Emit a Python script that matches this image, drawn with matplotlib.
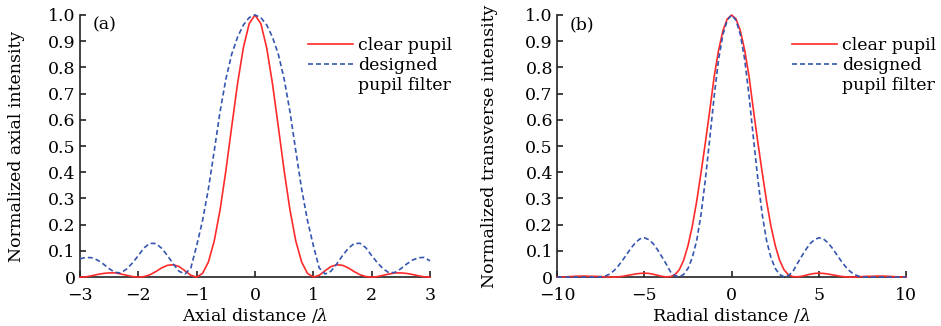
import matplotlib
matplotlib.use("Agg")
import matplotlib.pyplot as plt
import numpy as np
from matplotlib.lines import Line2D

# Fonts
plt.rcParams['font.family'] = ['DejaVu Serif']
plt.rcParams['mathtext.fontset'] = 'dejavuserif'
plt.rcParams['font.size'] = 12.5

# Couleurs
RED = '#ff2a2a'
BLUE = '#3556b0'

# (a) axial intensity, read every 0.1 lambda from -3 to 3
x_axial = np.linspace(-3, 3, 61)
axial_clear = [0.0, 0.001, 0.005, 0.010, 0.014, 0.016, 0.016, 0.012, 0.007, 0.002,
               0.0, 0.002, 0.009, 0.021, 0.035, 0.045, 0.047, 0.040, 0.024, 0.007,
               0.0, 0.014, 0.057, 0.137, 0.255, 0.405, 0.573, 0.737, 0.875, 0.967,
               1.0,
               0.967, 0.875, 0.737, 0.573, 0.405, 0.255, 0.137, 0.057, 0.014, 0.0,
               0.007, 0.024, 0.040, 0.047, 0.045, 0.035, 0.021, 0.009, 0.002, 0.0,
               0.002, 0.007, 0.012, 0.016, 0.016, 0.014, 0.010, 0.005, 0.001, 0.0]
axial_filter = [0.07, 0.075, 0.074, 0.065, 0.05, 0.032, 0.018, 0.016, 0.031, 0.054,
                0.082, 0.112, 0.129, 0.128, 0.11, 0.082, 0.05, 0.022, 0.012, 0.035,
                0.12, 0.215, 0.335, 0.48, 0.63, 0.755, 0.85, 0.915, 0.962, 0.99,
                1.0,
                0.99, 0.962, 0.915, 0.85, 0.755, 0.63, 0.48, 0.335, 0.215, 0.12,
                0.035, 0.012, 0.022, 0.05, 0.082, 0.11, 0.128, 0.129, 0.112, 0.082,
                0.054, 0.031, 0.016, 0.018, 0.032, 0.05, 0.065, 0.074, 0.075, 0.062]

# (b) transverse intensity
x_radial = [-10, -9.5, -9, -8.5, -8, -7.75, -7.5, -7.25, -7, -6.75, -6.5, -6.25,
            -6, -5.75, -5.5, -5.25, -5, -4.75, -4.5, -4.25, -4, -3.75, -3.5, -3.25,
            -3, -2.75, -2.5, -2.25, -2, -1.75, -1.5, -1.25, -1, -0.75, -0.5, -0.25,
            0,
            0.25, 0.5, 0.75, 1, 1.25, 1.5, 1.75, 2, 2.25, 2.5, 2.75, 3,
            3.25, 3.5, 3.75, 4, 4.25, 4.5, 4.75, 5, 5.25, 5.5, 5.75, 6,
            6.25, 6.5, 6.75, 7, 7.25, 7.5, 7.75, 8, 8.5, 9, 9.5, 10]
radial_clear = [0.0, 0.001, 0.003, 0.004, 0.003, 0.003, 0.002, 0.001, 0.0, 0.0,
                0.001, 0.003, 0.006, 0.009, 0.012, 0.014, 0.015, 0.014, 0.011, 0.007,
                0.003, 0.001, 0.002, 0.009, 0.028, 0.064, 0.12, 0.195, 0.29, 0.40,
                0.515, 0.637, 0.765, 0.865, 0.94, 0.985,
                1.0,
                0.985, 0.94, 0.865, 0.765, 0.637, 0.515, 0.40, 0.29, 0.195, 0.12,
                0.064, 0.028, 0.009, 0.002, 0.001, 0.003, 0.007, 0.011, 0.014, 0.015,
                0.014, 0.012, 0.009, 0.006, 0.003, 0.001, 0.0, 0.0, 0.001, 0.002,
                0.003, 0.003, 0.004, 0.003, 0.001, 0.0]
radial_filter = [0.0, 0.0, 0.0, 0.0, 0.0, 0.0, 0.001, 0.004, 0.011, 0.024,
                 0.042, 0.064, 0.088, 0.112, 0.132, 0.146, 0.15, 0.143, 0.128, 0.105,
                 0.078, 0.05, 0.02, 0.006, 0.001, 0.01, 0.033, 0.075, 0.14, 0.24,
                 0.375, 0.53, 0.69, 0.83, 0.925, 0.98,
                 1.0,
                 0.98, 0.925, 0.83, 0.69, 0.53, 0.375, 0.24, 0.14, 0.075, 0.033,
                 0.01, 0.001, 0.006, 0.02, 0.05, 0.078, 0.105, 0.128, 0.143, 0.15,
                 0.146, 0.132, 0.112, 0.088, 0.064, 0.042, 0.024, 0.011, 0.004, 0.001,
                 0.0, 0.0, 0.0, 0.0, 0.0, 0.0]

y_ticks = [0, 0.1, 0.2, 0.3, 0.4, 0.5, 0.6, 0.7, 0.8, 0.9, 1.0]
y_ticklabels = ['0', '0.1', '0.2', '0.3', '0.4', '0.5', '0.6', '0.7', '0.8', '0.9', '1.0']


def draw_panel(ax, x, clear, filt, xlim, xticks, xlabel, ylabel, tag, ylab_x, leg_x):
    ax.plot(x, clear, '-', color=RED, lw=1.2, clip_on=False, zorder=3)
    ax.plot(x, filt, '--', color=BLUE, lw=1.2, dashes=(3, 1.8), clip_on=False, zorder=3)
    ax.set_xlim(xlim)
    ax.set_ylim(0, 1)
    ax.set_xticks(xticks)
    ax.set_yticks(y_ticks)
    ax.set_yticklabels(y_ticklabels)
    ax.spines['top'].set_visible(False)
    ax.spines['right'].set_visible(False)
    for s in ['left', 'bottom']:
        ax.spines[s].set_linewidth(1.2)
        ax.spines[s].set_color('#222222')
    ax.tick_params(direction='in', length=4, width=1.2, color='#222222')
    ax.tick_params(axis='y', pad=3)
    ax.tick_params(axis='x', pad=7)
    ax.set_xlabel(xlabel)
    ax.set_ylabel(ylabel)
    ax.xaxis.set_label_coords(0.5, -0.11)
    ax.yaxis.set_label_coords(ylab_x, 0.5)
    ax.text(0.035, 0.995, tag, transform=ax.transAxes, va='top', ha='left')

    # legende (le texte sur deux lignes, le trait sur la premiere)
    handles = [Line2D([], [], color=RED, lw=1.2),
               Line2D([], [], color=BLUE, lw=1.2, ls='--', dashes=(3, 1.8)),
               Line2D([], [], color='none')]
    ax.legend(handles, ['clear pupil', 'designed', 'pupil filter'],
              loc='upper left', bbox_to_anchor=(leg_x, 0.915), frameon=False,
              borderpad=0, borderaxespad=0, handlelength=2.6, handletextpad=0.3,
              labelspacing=0.17)


fig = plt.figure(figsize=(9.41, 3.26), dpi=100)
ax1 = fig.add_axes([0.085, 0.150, 0.372, 0.804])
ax2 = fig.add_axes([0.592, 0.150, 0.371, 0.804])

draw_panel(ax1, x_axial, axial_clear, axial_filter, (-3, 3), [-3, -2, -1, 0, 1, 2, 3],
           r'Axial distance /$\lambda$', 'Normalized axial intensity', '(a)', -0.157, 0.651)
draw_panel(ax2, x_radial, radial_clear, radial_filter, (-10, 10), [-10, -5, 0, 5, 10],
           r'Radial distance /$\lambda$', 'Normalized transverse intensity', '(b)', -0.169, 0.673)

fig.savefig('out.png', dpi=100)
